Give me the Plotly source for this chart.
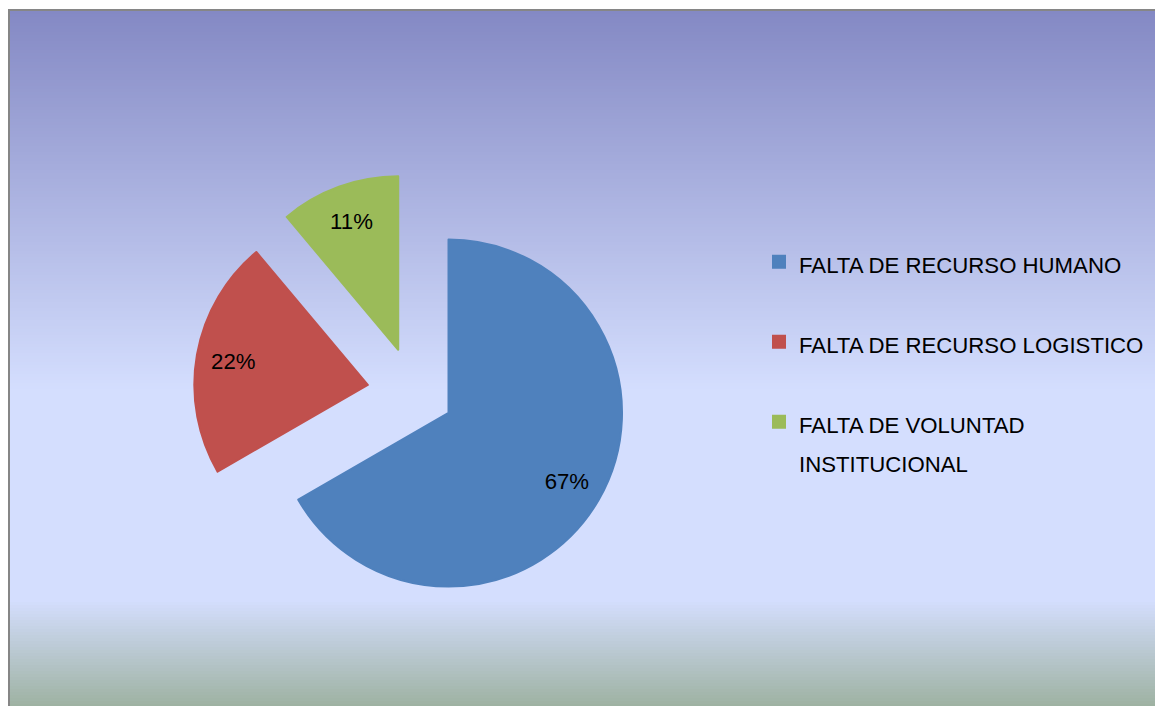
import plotly.graph_objects as go

# ---- data ----
labels = ["FALTA DE RECURSO HUMANO", "FALTA DE RECURSO LOGISTICO", "FALTA DE VOLUNTAD<br>INSTITUCIONAL"]
values = [6, 2, 1]
colors = ["#4F81BD", "#C0504D", "#9BBB59"]
pulls = [0.23, 0.27, 0.265]

W, H = 1155, 706
FONT = "Liberation Sans"
TXT = 22.2
DOMAIN = dict(x=[0.1676, 0.5492], y=[0.1312, 0.7554])


def legend_text(lab):
    lines = lab.split("<br>")
    out = "<br>".join(f"<span style='font-size:{TXT}px'>{ln}</span>" for ln in lines)
    if len(lines) == 1:
        out += "<br> "
    return out


leg_labels = [legend_text(l) for l in labels]

fig = go.Figure()
# slices
fig.add_trace(go.Pie(
    labels=leg_labels,
    values=values,
    marker=dict(colors=colors, line=dict(color=colors, width=2)),
    pull=pulls,
    sort=False,
    direction="clockwise",
    rotation=0,
    textinfo="none",
    hoverinfo="label+percent",
    domain=DOMAIN,
))
# percentage labels (transparent ring so labels sit near the outer part of each slice)
fig.add_trace(go.Pie(
    labels=leg_labels,
    values=values,
    marker=dict(colors=["rgba(0,0,0,0)"] * len(values), line=dict(width=0)),
    pull=pulls,
    hole=0.575,
    sort=False,
    direction="clockwise",
    rotation=0,
    texttemplate="%{percent:.0%}",
    textposition="inside",
    insidetextorientation="horizontal",
    textfont=dict(family=FONT, size=TXT, color="black"),
    hoverinfo="skip",
    showlegend=False,
    domain=DOMAIN,
))

# ---- background gradient ----
stops = [(11, (132, 137, 196)), (390, (212, 222, 254)), (600, (212, 222, 254)), (706, (158, 178, 162))]


def color_at(y):
    for (y0, c0), (y1, c1) in zip(stops[:-1], stops[1:]):
        if y0 <= y <= y1:
            t = (y - y0) / (y1 - y0) if y1 > y0 else 0
            return tuple(round(a + (b - a) * t) for a, b in zip(c0, c1))
    return stops[-1][1]


shapes = []
step = 3
y = 11
while y < H:
    c = color_at(y + step / 2)
    shapes.append(dict(type="rect", xref="paper", yref="paper",
                       x0=10 / W, x1=1.0, y0=1 - min(y + step, H) / H - 0.0005, y1=1 - y / H,
                       fillcolor=f"rgb{c}", line=dict(width=0), layer="below"))
    y += step
# border (left and top edges only are visible)
shapes.append(dict(type="line", xref="paper", yref="paper",
                   x0=9 / W, x1=9 / W, y0=0, y1=1 - 9 / H,
                   line=dict(color="#868686", width=2), layer="below"))
shapes.append(dict(type="line", xref="paper", yref="paper",
                   x0=8 / W, x1=1.0, y0=1 - 10 / H, y1=1 - 10 / H,
                   line=dict(color="#868686", width=2), layer="below"))

fig.update_layout(
    width=W, height=H,
    margin=dict(l=0, r=0, t=0, b=0),
    paper_bgcolor="white",
    plot_bgcolor="white",
    shapes=shapes,
    showlegend=True,
    legend=dict(
        x=759 / W, y=1 - 236 / H, xanchor="left", yanchor="top",
        valign="top",
        font=dict(family=FONT, size=29.6, color="black"),
        bgcolor="rgba(0,0,0,0)",
        borderwidth=0,
    ),
    font=dict(family=FONT),
)

fig.write_html(
    "out.html",
    config={"displayModeBar": False},
    post_script="document.body.style.margin='0';document.body.style.overflow='hidden';",
)
